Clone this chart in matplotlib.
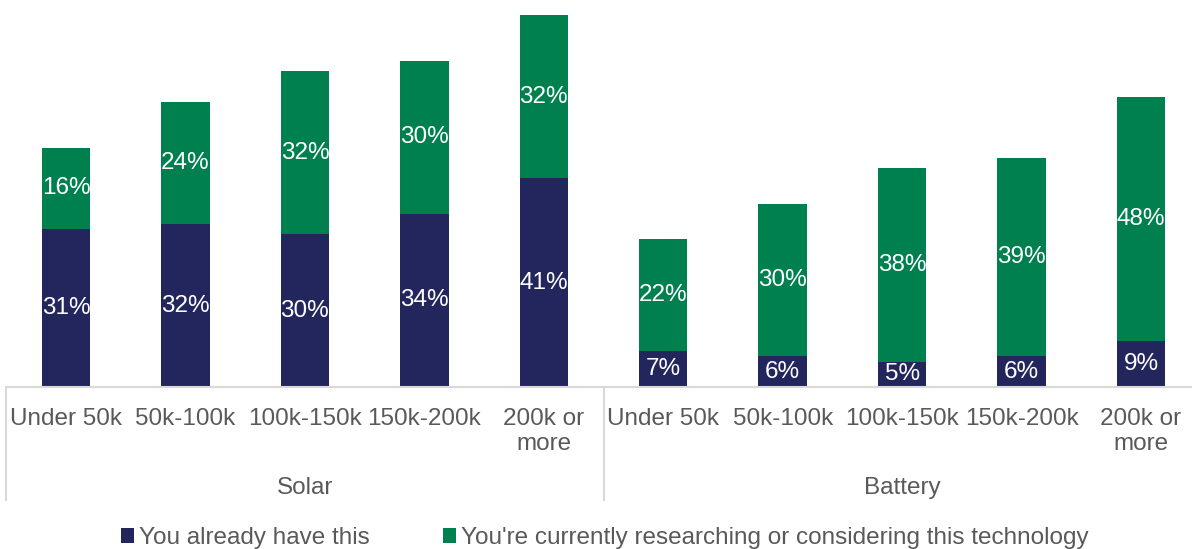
import matplotlib.pyplot as plt
import matplotlib.transforms as mtransforms
import numpy as np

plt.rcParams['font.family'] = ['Liberation Sans', 'DejaVu Sans']

# data
groups = ["Solar", "Battery"]
incomes = ["Under 50k", "50k-100k", "100k-150k", "150k-200k", "200k or\nmore"]
have_this = [31, 32, 30, 34, 41, 7, 6, 5, 6, 9]
considering = [16, 24, 32, 30, 32, 22, 30, 38, 39, 48]
series_names = ["You already have this",
                "You're currently researching or considering this technology"]

navy = "#23265c"
green = "#00804f"
grey_text = "#595959"
line_col = "#d9d9d9"
fs = 17.5

W, H = 1192, 549
fig = plt.figure(figsize=(W / 100, H / 100), dpi=100)
base_px = 387
ax = fig.add_axes([6.3 / W, (H - base_px) / H, 1194.4 / W, base_px / H])

x = np.arange(len(have_this))
b1 = ax.bar(x, have_this, width=0.405, color=navy, label=series_names[0])
b2 = ax.bar(x, considering, width=0.405, bottom=have_this, color=green, label=series_names[1])

for i in range(len(x)):
    ax.text(x[i], have_this[i] / 2, f"{have_this[i]}%", ha='center', va='center',
            color='white', fontsize=fs)
    ax.text(x[i], have_this[i] + considering[i] / 2, f"{considering[i]}%", ha='center',
            va='center', color='white', fontsize=fs)

ax.set_xlim(-0.5, len(x) - 0.5)
ax.set_ylim(0, 76)
ax.axis('off')

# baseline
ax.axhline(0, color=line_col, lw=1.5, clip_on=False)

trans = mtransforms.blended_transform_factory(ax.transData, ax.transAxes)
px = 1 / base_px

# group separators
for xs in [-0.5, 4.5, 9.5]:
    ax.plot([xs, xs], [0, -113 * px], transform=trans, color=line_col, lw=1.5, clip_on=False)

# category labels
for i in range(len(x)):
    ax.text(x[i], -21 * px, incomes[i % 5], transform=trans, ha='center', va='top',
            color=grey_text, fontsize=fs, linespacing=1.19)

# group labels
for g, name in enumerate(groups):
    ax.text(g * 5 + 2, -101 * px, name, transform=trans, ha='center', va='center',
            color=grey_text, fontsize=fs)

leg = fig.legend(handles=[b1, b2], loc='center', bbox_to_anchor=(605 / W, 1 - 538 / H),
                 ncol=2, frameon=False, fontsize=fs, handlelength=0.55, handleheight=0.55,
                 handletextpad=0.2, columnspacing=3.0, borderaxespad=0)
for t in leg.get_texts():
    t.set_color(grey_text)

fig.savefig("out.png", dpi=100)
